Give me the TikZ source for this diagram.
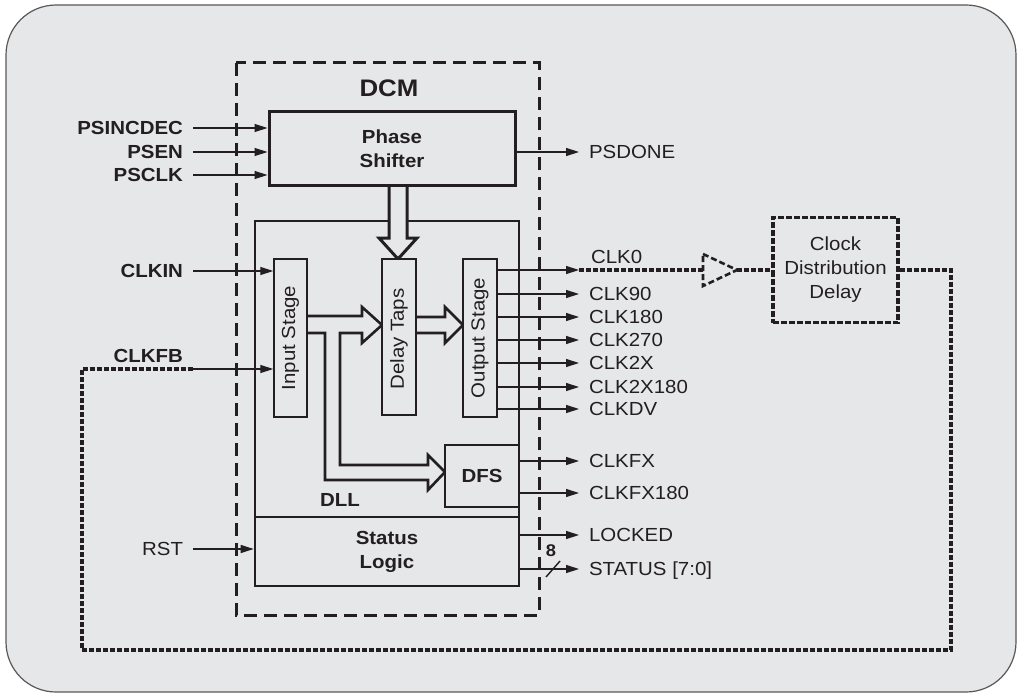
\documentclass[tikz,border=0pt]{standalone}
\usepackage{fontspec}
\setmainfont{Liberation Sans}[FakeStretch=1.08]
\usetikzlibrary{arrows.meta}
\definecolor{bgc}{RGB}{230,231,232}
\definecolor{ink}{RGB}{35,31,32}

\begin{document}
\begin{tikzpicture}[x=1bp,y=-1bp,
  sig/.style={draw=ink,line width=1.4bp,-{Triangle[length=13bp,width=8bp]}},
  lbl/.style={inner sep=2bp,outer sep=8bp,text height=13.7bp,text depth=0bp,text=ink,font=\fontsize{19}{23}\selectfont},
  blbl/.style={lbl,font=\fontsize{19}{23}\selectfont\bfseries},
  blk/.style={draw=ink,line width=2.6bp,fill=bgc,inner sep=0pt,text=ink,align=center,font=\fontsize{19}{24}\selectfont\bfseries},
  sub/.style={draw=ink,line width=1.5bp,fill=bgc,inner sep=0pt},
  vtxt/.style={rotate=90,text=ink,font=\fontsize{19}{23}\selectfont},
  pipe/.style={draw=ink,line width=2.6bp,fill=bgc,line join=miter},
  fb/.style={draw=ink,line width=3.2bp,dash pattern=on 5bp off 2bp}]
\useasboundingbox (0,0) rectangle (1021,697);
\path[draw=ink!75,fill=bgc,line width=1.2bp,rounded corners=50bp] (6,5) rectangle (1016,692);

\draw[ink,line width=3bp,dash pattern=on 13bp off 7bp] (236,63) rectangle (539,615);
\node[text=ink,font=\fontsize{24}{28}\selectfont\bfseries] (dcm) at (389,88) {DCM};

\node[blk,minimum width=264bp,minimum height=296bp] (dll) at (387,369) {};
\draw[pipe,line width=3bp] (389,185) -- (389,238) -- (379,238) -- (398,259) -- (417,238) -- (407,238) -- (407,185);
\node[blk,line width=3bp,minimum width=246bp,minimum height=73bp] (phase) at (392,148.5) {Phase\\Shifter};

\draw[pipe] (307,316) -- (362,316) -- (362,307) -- (382,325) -- (362,343) -- (362,333) -- (340,333) -- (340,465) -- (428,465) -- (428,455) -- (445,472) -- (428,490) -- (428,480) -- (325,480) -- (325,333) -- (307,333);
\draw[pipe] (416,317) -- (445,317) -- (445,307) -- (463,325) -- (445,343) -- (445,333) -- (416,333);

\node[sub,minimum width=33bp,minimum height=158bp] (ins) at (290.5,338) {};
\node[sub,minimum width=34bp,minimum height=156bp] (taps) at (399,337) {};
\node[sub,minimum width=34bp,minimum height=158bp] (outs) at (480,338) {};
\node[vtxt] (inst) at (ins) {Input Stage};
\node[vtxt] (tapst) at (399,339) {Delay Taps};
\node[vtxt] (outst) at (outs) {Output Stage};
\node[blk,minimum width=74bp,minimum height=62bp] (dfs) at (482,476) {DFS};
\node[blbl] (dllt) at (340,500) {DLL};
\node[blk,minimum width=264bp,minimum height=69bp] (stat) at (387,551.5) {Status\\Logic};

\node[blbl,anchor=east] (psinc) at (193,128) {PSINCDEC};
\node[blbl,anchor=east] (psen) at (193,152) {PSEN};
\node[blbl,anchor=east] (psclk) at (193,175) {PSCLK};
\node[blbl,anchor=east] (clkin) at (193,271) {CLKIN};
\node[blbl,anchor=east] (clkfb) at (193,356) {CLKFB};
\node[lbl,anchor=east] (rst) at (193,549) {RST};
\draw[sig] (psinc) -- (psinc -| phase.west);
\draw[sig] (psen) -- (psen -| phase.west);
\draw[sig] (psclk) -- (psclk -| phase.west);
\draw[sig] (clkin) -- (clkin -| ins.west);
\draw[sig] (rst) -- (rst -| stat.west);

\node[lbl,anchor=west] (psdone) at (579,152) {PSDONE};
\node[lbl,anchor=west] (clk0) at (581,257) {CLK0};
\node[lbl,anchor=west] (clk90) at (579,294) {CLK90};
\node[lbl,anchor=west] (clk180) at (579,317) {CLK180};
\node[lbl,anchor=west] (clk270) at (579,340) {CLK270};
\node[lbl,anchor=west] (clk2x) at (579,363) {CLK2X};
\node[lbl,anchor=west] (clk2x180) at (579,387) {CLK2X180};
\node[lbl,anchor=west] (clkdv) at (579,409) {CLKDV};
\node[lbl,anchor=west] (clkfx) at (579,461) {CLKFX};
\node[lbl,anchor=west] (clkfx180) at (579,493) {CLKFX180};
\node[lbl,anchor=west] (locked) at (579,535) {LOCKED};
\node[lbl,anchor=west] (status) at (579,569) {STATUS [7:0]};
\draw[sig] (psdone -| phase.east) -- (psdone);
\draw[sig] (clk90 -| outs.east) -- (clk90);
\draw[sig] (clk180 -| outs.east) -- (clk180);
\draw[sig] (clk270 -| outs.east) -- (clk270);
\draw[sig] (clk2x -| outs.east) -- (clk2x);
\draw[sig] (clk2x180 -| outs.east) -- (clk2x180);
\draw[sig] (clkdv -| outs.east) -- (clkdv);
\draw[sig] (clkfx -| dfs.east) -- (clkfx);
\draw[sig] (clkfx180 -| dfs.east) -- (clkfx180);
\draw[sig] (locked -| stat.east) -- (locked);
\draw[sig] (status -| stat.east) -- (status);
\coordinate (bus) at (553,569);
\draw[ink,line width=1.4bp] (bus) ++(-7,8) -- ++(14,-16);
\node[text=ink,font=\fontsize{17}{20}\selectfont\bfseries] (busw) at (551,551) {8};

\coordinate (c0) at (579,270);
\coordinate (bufin) at (703,270);
\node[draw=ink,line width=3.4bp,dash pattern=on 6bp off 2bp,minimum width=125bp,minimum height=105bp,inner sep=0pt,align=center,text=ink,font=\fontsize{19}{24}\selectfont] (cdd) at (835.5,270) {Clock\\Distribution\\Delay};
\draw[sig] (c0 -| outs.east) -- (c0);
\draw[fb] (c0) -- (bufin);
\draw[ink,line width=2.6bp,dash pattern=on 6bp off 3bp] (bufin) ++(0,-16) -- ++(34,16) coordinate (bufout) -- ++(-34,16) -- cycle;
\draw[fb] (bufout) -- (cdd);

\coordinate (lpr) at (951,650);
\coordinate (lpl) at (82,650);
\coordinate (fbj) at (193,369);
\draw[fb] (cdd.east) -| (lpr) -- (lpl) |- (fbj);
\draw[sig] (fbj) -- (fbj -| ins.west);
\end{tikzpicture}
\end{document}
